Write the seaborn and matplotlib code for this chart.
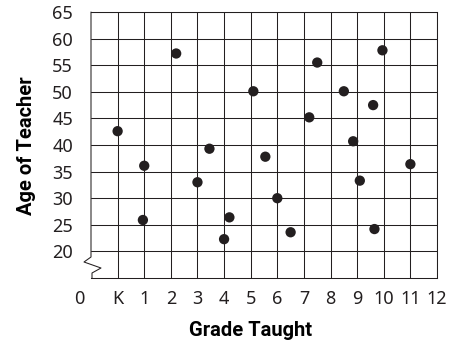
import matplotlib
matplotlib.use("Agg")
import matplotlib.pyplot as plt
import matplotlib.transforms as mtransforms
from matplotlib.lines import Line2D
import seaborn as sns
import pandas as pd

# Grade taught (K placed at 0) and age of each teacher
grade = [0.0, 1.0, 2.2, 3.45, 3.0, 5.1, 7.5, 9.95, 8.5, 9.6, 7.2,
         8.85, 5.55, 11.0, 9.1, 0.95, 4.2, 4.0, 6.0, 6.5, 9.65]
age = [42.6, 36.1, 57.2, 39.3, 33.0, 50.1, 55.5, 57.8, 50.1, 47.5, 45.2,
       40.7, 37.8, 36.4, 33.3, 25.9, 26.4, 22.3, 30.0, 23.6, 24.2]

x_ticks = list(range(0, 13))
x_labels = ["K", "1", "2", "3", "4", "5", "6", "7", "8", "9", "10", "11", "12"]
y_ticks = [20, 25, 30, 35, 40, 45, 50, 55, 60, 65]

ink = "#231f20"
tick_size = 13

sns.set_style("white")
plt.rcParams["font.family"] = ["Noto Sans", "DejaVu Sans"]

df = pd.DataFrame({"grade": grade, "age": age})

fig = plt.figure(figsize=(4.56, 3.43), dpi=100)
ax = fig.add_axes([91 / 456, 1 - 278 / 343, 346 / 456, 266 / 343])

sns.scatterplot(data=df, x="grade", y="age", ax=ax, s=55, color=ink,
                edgecolor="none", zorder=5, legend=False)

ax.set_xlim(-1, 12)
ax.set_ylim(15, 65)
ax.set_xticks(x_ticks)
ax.set_xticklabels(x_labels)
ax.set_yticks(y_ticks)
ax.set_yticklabels([str(v) for v in y_ticks])
ax.grid(True, color=ink, linewidth=0.75)
ax.set_axisbelow(True)
ax.tick_params(axis="both", length=0, labelsize=tick_size, colors=ink)
ax.tick_params(axis="x", pad=9)
ax.tick_params(axis="y", pad=13)
ax.set_xlabel("")
ax.set_ylabel("")

for side in ("top", "right", "bottom"):
    ax.spines[side].set_color(ink)
    ax.spines[side].set_linewidth(0.75)
ax.spines["left"].set_visible(False)

# Left axis with a break symbol between the origin and 20
w, h = 346.0, 266.0
bx = [0, 0, -7 / w, 10 / w, 1 / w, 1 / w]
by = [1, 21 / h, 16 / h, 10 / h, 5 / h, 0]
ax.add_line(Line2D(bx, by, transform=ax.transAxes, color=ink,
                   linewidth=0.75, clip_on=False))

# Origin label, set a little left of the corner
off = mtransforms.ScaledTranslation(-12 / 100, -9 / 72, fig.dpi_scale_trans)
ax.text(-1, 0, "0", transform=ax.get_xaxis_transform() + off,
        ha="center", va="top", fontsize=tick_size, color=ink)

title_font = ["Liberation Sans Narrow", "Roboto", "DejaVu Sans"]
fig.text(251 / 456, 1 - 331 / 343, "Grade Taught", ha="center", va="center",
         fontsize=14.5, fontweight="bold", family=title_font, color="black")
fig.text(27 / 456, 1 - 146 / 343, "Age of Teacher", ha="center", va="center",
         rotation=90, fontsize=14.5, fontweight="bold", family=title_font,
         color="black")

fig.savefig("out.png", dpi=100)
